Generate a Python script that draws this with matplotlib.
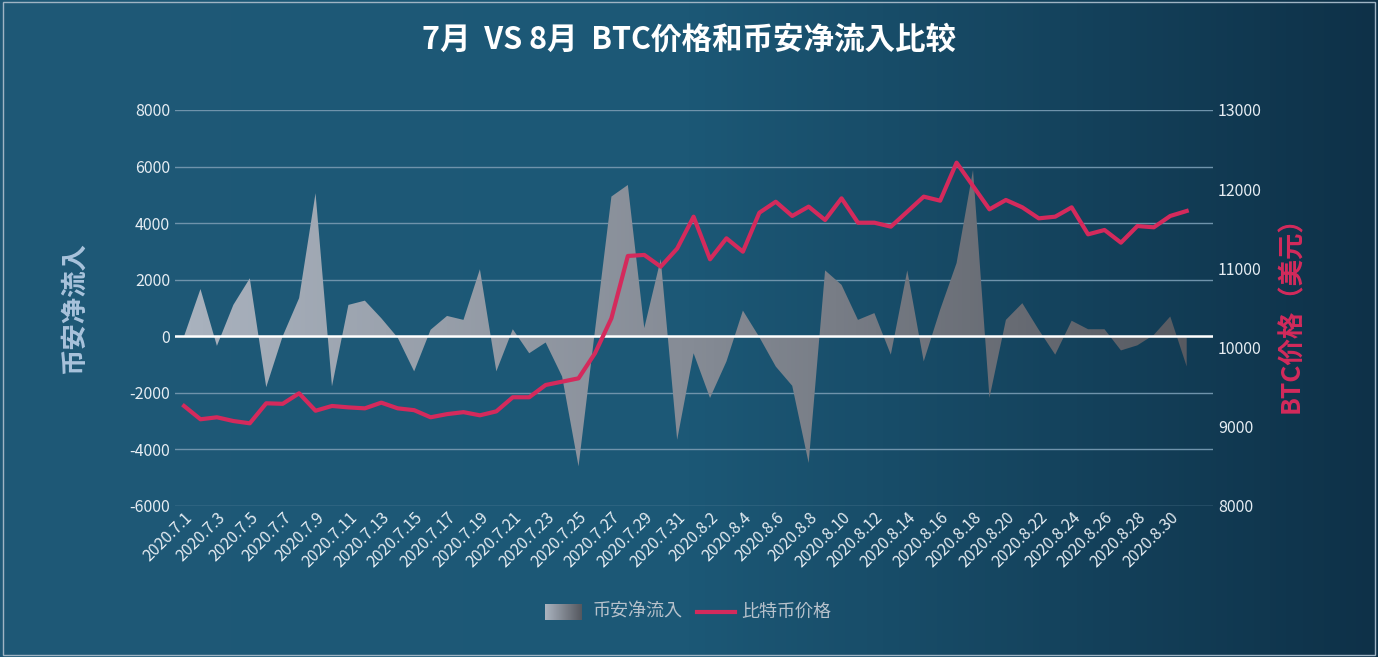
import numpy as np
import matplotlib.pyplot as plt
from matplotlib import font_manager
from matplotlib.colors import LinearSegmentedColormap

cjk = sorted([f for f in font_manager.findSystemFonts() if "cjk" in f.lower()],
             key=lambda f: ("sans" not in f.lower(), "bold" in f.lower(), f))
if cjk:
    font_manager.fontManager.addfont(cjk[0])
    plt.rcParams["font.family"] = font_manager.FontProperties(fname=cjk[0]).get_name()
plt.rcParams["axes.unicode_minus"] = False

# DATA
dates = ["2020.7.%d" % d for d in range(1, 32)] + ["2020.8.%d" % d for d in range(1, 32)]
net_inflow = [0, 1670, -340, 1110, 2050, -1800, 0, 1350, 5060, -1770,
              1110, 1260, 640, -50, -1240, 230, 720, 580, 2370, -1240,
              250, -600, -220, -1420, -4600, 200, 4940, 5350, 290, 2730,
              -3660, -600, -2180, -890, 910, -30, -1070, -1750, -4480, 2330,
              1820, 580, 820, -650, 2330, -890, 940, 2590, 5880, -2180,
              580, 1170, 230, -650, 550, 250, 250, -500, -320, 50,
              700, -1070]
btc_price = [9263, 9095, 9120, 9073, 9044, 9297, 9290, 9423, 9203, 9263,
             9245, 9233, 9305, 9233, 9210, 9120, 9160, 9185, 9145, 9195,
             9373, 9373, 9528, 9570, 9612, 9928, 10370, 11157, 11170, 11022,
             11250, 11653, 11115, 11380, 11211, 11703, 11842, 11662, 11780, 11611,
             11885, 11577, 11577, 11527, 11716, 11906, 11855, 12335, 12040, 11746,
             11864, 11771, 11632, 11653, 11771, 11430, 11485, 11325, 11535, 11519,
             11662, 11725]

x = np.arange(len(dates))
W, H = 1378, 657
fig = plt.figure(figsize=(W / 100, H / 100), dpi=100)

# background gradient
bg = fig.add_axes([0, 0, 1, 1], zorder=-10)
bg.imshow(np.linspace(0, 1, 256).reshape(1, -1), aspect="auto", extent=[0, 1, 0, 1],
          cmap=LinearSegmentedColormap.from_list("bg", ["#1f5876", "#1c5876", "#0e3148"]))
bg.set_axis_off()
fig.patches.append(plt.Rectangle((0.002, 0.003), 0.996, 0.994, transform=fig.transFigure,
                                 fill=False, ec="#9fb4c4", lw=1))

ax = fig.add_axes([175 / W, 1 - 506 / H, 1038 / W, 396 / H])
ax.patch.set_alpha(0)
ax.set_xlim(-0.55, 62.6)
ax.set_ylim(-6000, 8000)
ax.set_yticks(range(-6000, 8001, 2000))
ax.grid(axis="y", color="#6f93ab", lw=1)
ax.set_axisbelow(True)

poly = ax.fill_between(x, net_inflow, 0, color="none", lw=0)
grad = ax.imshow(np.linspace(0, 1, 256).reshape(1, -1), aspect="auto",
                 extent=[-0.55, 62.6, -6000, 8000], zorder=2,
                 cmap=LinearSegmentedColormap.from_list("ar", ["#aab3bf", "#858b95", "#55585f"]))
grad.set_clip_path(poly.get_paths()[0], transform=ax.transData)
ax.axhline(0, color="white", lw=1.8, zorder=3)

for s in ax.spines.values():
    s.set_visible(False)
ax.tick_params(length=0, colors="#e6edf3", labelsize=11.5)
ax.tick_params(axis="x", pad=2)
ax.set_xticks(x[::2])
ax.set_xticklabels(dates[::2], rotation=45, ha="right", rotation_mode="anchor", fontsize=11.5)
ax.set_ylabel("币安净流入", color="#a9c3dc", fontsize=19, fontweight="bold", labelpad=30)

ax2 = ax.twinx()
ax2.set_ylim(8000, 13000)
ax2.set_yticks(range(8000, 13001, 1000))
ax2.plot(x, btc_price, color="#d42a5c", lw=3, zorder=5)
for s in ax2.spines.values():
    s.set_visible(False)
ax2.tick_params(length=0, colors="#e6edf3", labelsize=11.5)
ax2.set_ylabel("BTC价格（美元）", color="#d42a5c", fontsize=19, fontweight="bold", labelpad=12)

fig.text(0.5, 0.94, "7月  VS 8月  BTC价格和币安净流入比较", ha="center", va="center",
         color="white", fontsize=22, fontweight="bold")

# legend
lx, ly = 545 / W, 1 - 612 / H
lg = fig.add_axes([lx, ly - 0.012, 37 / W, 0.024])
lg.imshow(np.linspace(0, 1, 64).reshape(1, -1), aspect="auto",
          cmap=LinearSegmentedColormap.from_list("lg", ["#aab3bf", "#55585f"]))
lg.set_axis_off()
fig.text(593 / W, ly, "币安净流入", color="#b8c2cc", fontsize=13, va="center")
fig.lines.append(plt.Line2D([697 / W, 735 / W], [ly, ly], color="#d42a5c", lw=3,
                            transform=fig.transFigure))
fig.text(741 / W, ly, "比特币价格", color="#b8c2cc", fontsize=13, va="center")

fig.savefig("out.png", dpi=100)
